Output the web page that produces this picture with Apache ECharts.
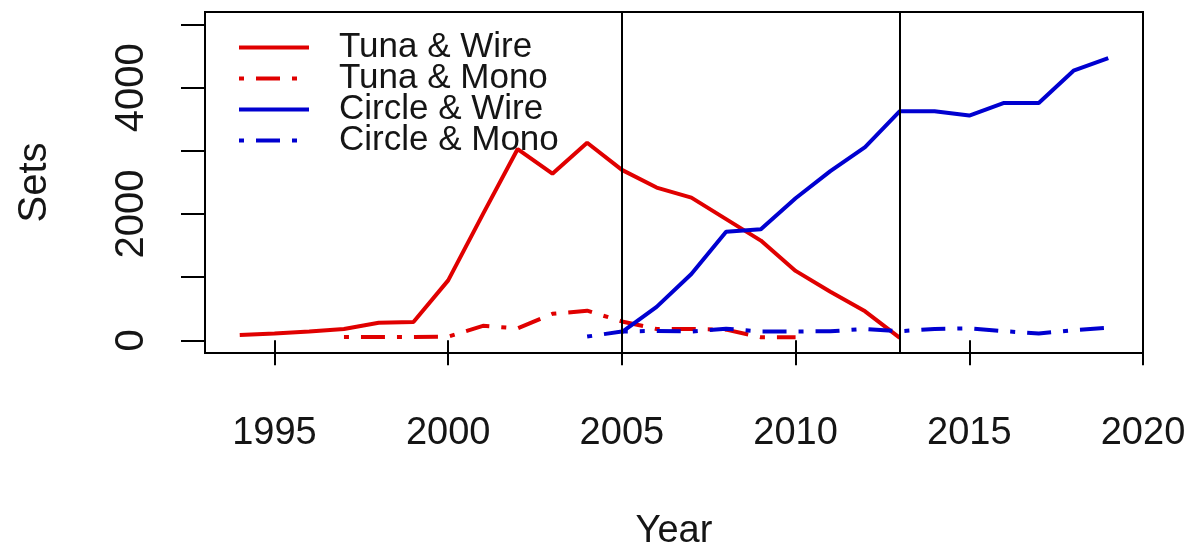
<!DOCTYPE html>
<html>
<head>
<meta charset="utf-8">
<script src="https://cdn.jsdelivr.net/npm/echarts@6/dist/echarts.min.js"></script>
<style>
html,body{margin:0;padding:0;background:#fff;}
#main{width:1198px;height:552px;}
</style>
</head>
<body>
<div id="main"></div>
<script>
// ---- data ----
var tunaWireYears = [1994,1995,1996,1997,1998,1999,2000,2001,2002,2003,2004,2005,2006,2007,2008,2009,2010,2011,2012,2013];
var tunaWire      = [85,110,140,180,280,290,950,2000,3030,2640,3130,2700,2420,2260,1920,1580,1100,770,460,40];
var tunaMonoYears = [1997,1998,1999,2000,2001,2002,2003,2004,2005,2006,2007,2008,2009,2010];
var tunaMono      = [55,55,55,60,230,190,420,470,300,180,180,170,50,50];
var circleWireYears = [2005,2006,2007,2008,2009,2010,2011,2012,2013,2014,2015,2016,2017,2018,2019];
var circleWire      = [130,530,1050,1720,1760,2250,2680,3060,3630,3630,3560,3760,3760,4270,4470];
var circleMonoYears = [2004,2005,2006,2007,2008,2009,2010,2011,2012,2013,2014,2015,2016,2017,2018,2019];
var circleMono      = [60,140,150,140,185,140,140,145,180,145,180,190,145,110,160,200];
var xTicks = [1995,2000,2005,2010,2015,2020];
var yTicks = [0,1000,2000,3000,4000,5000];
var yLabels = [0,2000,4000];
var vLines = [2005,2013];
var seriesNames = ['Tuna & Wire','Tuna & Mono','Circle & Wire','Circle & Mono'];

function pairs(xs, ys){ return xs.map(function(x,i){ return [x, ys[i]]; }); }

var RED = '#e00000', BLUE = '#0000d0';
var DOTDASH = [5, 12, 24, 12];
var LW = 4;
var FONT = 'Liberation Sans, Arial, sans-serif';
var TXT = '#151515';

var chart = echarts.init(document.getElementById('main'), null, {renderer:'canvas'});
chart.setOption({
  animation: false,
  backgroundColor: '#fff',
  grid: {left: 205, right: 55, top: 12, bottom: 199, containLabel: false, outerBoundsMode: 'none',
    show: true, borderColor: '#000', borderWidth: 2, backgroundColor: 'transparent'},
  legend: {
    left: 237, top: 30, padding: 0, orient: 'vertical', itemGap: -4, itemWidth: 70, itemHeight: 24,
    data: seriesNames,
    itemStyle: {opacity: 0},
    lineStyle: {width: 4},
    textStyle: {fontFamily: FONT, fontSize: 35, color: TXT, lineHeight: 31, padding: [0,0,0,25]}
  },
  xAxis: {
    type: 'value', min: 1993, max: 2020,
    name: 'Year', nameLocation: 'middle', nameGap: 160,
    nameTextStyle: {fontFamily: FONT, fontSize: 38, color: TXT},
    axisLine: {show: false},
    axisTick: {show: true, length: 25, inside: false, customValues: xTicks, lineStyle: {color: '#000', width: 2}},
    axisLabel: {show: true, customValues: xTicks, margin: 62, fontFamily: FONT, fontSize: 38, color: TXT,
      formatter: function(v){ return String(v); }},
    splitLine: {show: false}
  },
  yAxis: {
    type: 'value', min: -200, max: 5200,
    name: 'Sets', nameLocation: 'middle', nameGap: 150,
    nameTextStyle: {fontFamily: FONT, fontSize: 40, color: TXT},
    axisLine: {show: false},
    axisTick: {show: true, length: 24, customValues: yTicks, lineStyle: {color: '#000', width: 2}},
    axisLabel: {show: true, customValues: yLabels, rotate: 90, margin: 53, fontFamily: FONT, fontSize: 40, color: TXT,
      formatter: function(v){ return String(v); }},
    splitLine: {show: false}
  },
  series: [
    {name: seriesNames[0], type: 'line', data: pairs(tunaWireYears, tunaWire), symbol: 'none', lineStyle: {color: RED, width: LW}, itemStyle: {color: RED},
     markLine: {silent: true, symbol: 'none', label: {show: false}, lineStyle: {color: '#000', width: 2, type: 'solid'},
       data: vLines.map(function(v){ return {xAxis: v}; })}},
    {name: seriesNames[1], type: 'line', data: pairs(tunaMonoYears, tunaMono), symbol: 'none', lineStyle: {color: RED, width: LW, type: DOTDASH, cap: 'butt'}, itemStyle: {color: RED}},
    {name: seriesNames[2], type: 'line', data: pairs(circleWireYears, circleWire), symbol: 'none', lineStyle: {color: BLUE, width: LW}, itemStyle: {color: BLUE}},
    {name: seriesNames[3], type: 'line', data: pairs(circleMonoYears, circleMono), symbol: 'none', lineStyle: {color: BLUE, width: LW, type: DOTDASH, cap: 'butt'}, itemStyle: {color: BLUE}}
  ]
});
</script>
</body>
</html>
